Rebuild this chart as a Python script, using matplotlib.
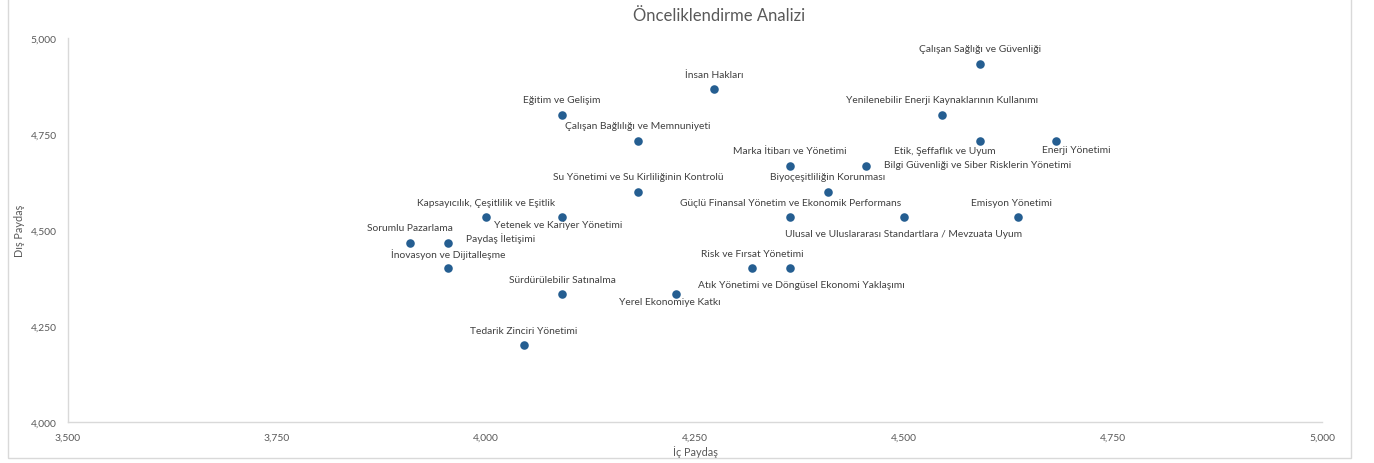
import matplotlib
matplotlib.use("Agg")
import matplotlib.pyplot as plt
from matplotlib.patches import Rectangle
from matplotlib.ticker import FuncFormatter

topics = [
    "Çalışan Sağlığı ve Güvenliği",
    "İnsan Hakları",
    "Eğitim ve Gelişim",
    "Yenilenebilir Enerji Kaynaklarının Kullanımı",
    "Çalışan Bağlılığı ve Memnuniyeti",
    "Etik, Şeffaflık ve Uyum",
    "Enerji Yönetimi",
    "Marka İtibarı ve Yönetimi",
    "Bilgi Güvenliği ve Siber Risklerin Yönetimi",
    "Su Yönetimi ve Su Kirliliğinin Kontrolü",
    "Biyoçeşitliliğin Korunması",
    "Kapsayıcılık, Çeşitlilik ve Eşitlik",
    "Yetenek ve Kariyer Yönetimi",
    "Güçlü Finansal Yönetim ve Ekonomik Performans",
    "Ulusal ve Uluslararası Standartlara / Mevzuata Uyum",
    "Emisyon Yönetimi",
    "Sorumlu Pazarlama",
    "Paydaş İletişimi",
    "İnovasyon ve Dijitalleşme",
    "Risk ve Fırsat Yönetimi",
    "Atık Yönetimi ve Döngüsel Ekonomi Yaklaşımı",
    "Sürdürülebilir Satınalma",
    "Yerel Ekonomiye Katkı",
    "Tedarik Zinciri Yönetimi",
]
ic_paydas = [4.591, 4.273, 4.091, 4.545, 4.182, 4.591, 4.682, 4.364,
             4.455, 4.182, 4.409, 4.000, 4.091, 4.364, 4.500, 4.636,
             3.909, 3.955, 3.955, 4.318, 4.364, 4.091, 4.227, 4.045]
dis_paydas = [4.933, 4.867, 4.800, 4.800, 4.733, 4.733, 4.733, 4.667,
              4.667, 4.600, 4.600, 4.533, 4.533, 4.533, 4.533, 4.533,
              4.467, 4.467, 4.400, 4.400, 4.400, 4.333, 4.333, 4.200]
x_ticks = [3.5, 3.75, 4.0, 4.25, 4.5, 4.75, 5.0]
y_ticks = [4.0, 4.25, 4.5, 4.75, 5.0]

# label placement (pixel offsets from the dot), default is centred above
ABOVE = (0, 15, "center")
label_pos = [ABOVE] * len(topics)
label_pos[5] = (-35, -10, "center")    # Etik
label_pos[6] = (20, -9, "center")      # Enerji
label_pos[8] = (18, 1, "left")         # Bilgi
label_pos[12] = (-4, -7, "center")     # Yetenek
label_pos[14] = (0, -16, "center")     # Ulusal
label_pos[15] = (-6, 15, "center")     # Emisyon
label_pos[17] = (18, 5, "left")        # Paydaş
label_pos[20] = (11, -16, "center")    # Atık
label_pos[22] = (-6, -7, "center")     # Yerel

FONT = ["Lato", "DejaVu Sans"]
plt.rcParams["font.family"] = FONT
DOT = "#255E91"
TXT = "#404040"
GRAY = "#595959"
LINE = "#D9D9D9"

W, H = 1374, 464
fig = plt.figure(figsize=(W / 100, H / 100), dpi=100)
ax = fig.add_axes([68 / W, 1 - 423 / H, (1322 - 68) / W, (423 - 39) / H])

# outer chart frame
fig.patches.append(Rectangle((8 / W, 1 - 459 / H), (1351 - 8) / W, 459 / H + 0.02,
                             transform=fig.transFigure, fill=False,
                             edgecolor=LINE, linewidth=1))

ax.scatter(ic_paydas, dis_paydas, s=38, color=DOT, zorder=3, linewidths=0)

for name, x, y, (dx, dy, ha) in zip(topics, ic_paydas, dis_paydas, label_pos):
    ax.annotate(name, (x, y), xytext=(dx, dy), textcoords="offset pixels",
                ha=ha, va="center", fontsize=7.4, color=TXT)

ax.set_xlim(3.5, 5.0)
ax.set_ylim(4.0, 5.0)
ax.set_xticks(x_ticks)
ax.set_yticks(y_ticks)
fmt = FuncFormatter(lambda v, _: f"{v:.3f}".replace(".", ","))
ax.xaxis.set_major_formatter(fmt)
ax.yaxis.set_major_formatter(fmt)
ax.tick_params(length=0, labelsize=7.4, labelcolor=GRAY, pad=8)

for side in ("top", "right"):
    ax.spines[side].set_visible(False)
for side in ("left", "bottom"):
    ax.spines[side].set_color(LINE)
    ax.spines[side].set_linewidth(1)

ax.set_xlabel("İç Paydaş", fontsize=7.8, color=GRAY, labelpad=2)
ax.set_ylabel("Dış Paydaş", fontsize=7.8, color=GRAY, labelpad=4)
fig.text(719 / W, 1 - 16 / H, "Önceliklendirme Analizi", ha="center",
         va="center", fontsize=12, color=GRAY)

fig.savefig("out.png", dpi=100)
